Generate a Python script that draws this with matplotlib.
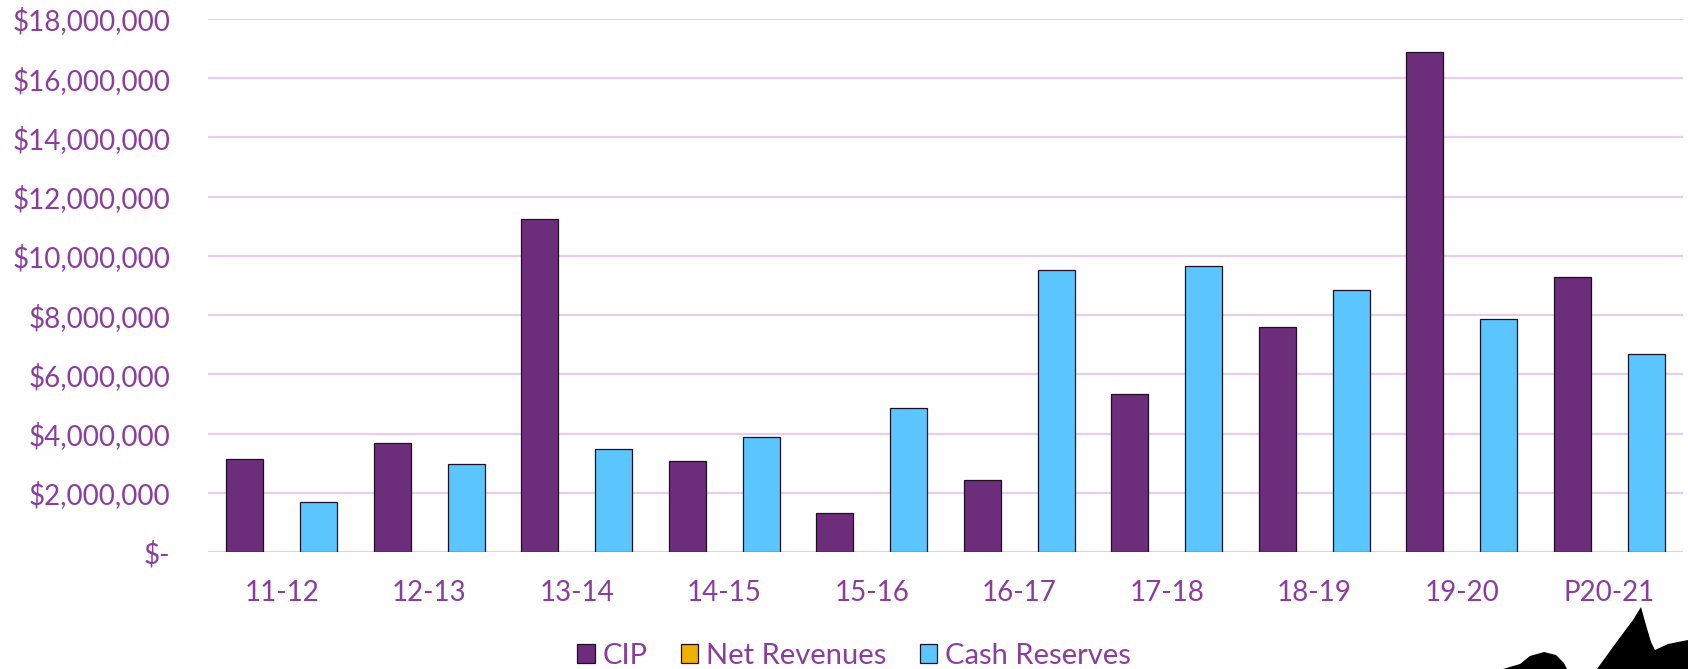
import matplotlib.pyplot as plt
import numpy as np
from matplotlib.patches import Patch, Polygon
from matplotlib.ticker import FuncFormatter

years = ['11-12', '12-13', '13-14', '14-15', '15-16', '16-17', '17-18', '18-19', '19-20', 'P20-21']
cip = [3.13, 3.67, 11.23, 3.07, 1.33, 2.43, 5.33, 7.61, 16.9, 9.30]
net_revenues = [0, 0, 0, 0, 0, 0, 0, 0, 0, 0]
cash_reserves = [1.69, 2.97, 3.49, 3.90, 4.86, 9.51, 9.66, 8.84, 7.86, 6.67]

TEXT = '#8B3D9E'
GRID = '#E8CDEB'
C_CIP = '#6C2D7A'
C_NET = '#F0B000'
C_CASH = '#5BC6FE'

plt.rcParams['font.family'] = ['Lato', 'DejaVu Sans']


def money(v, pos):
    if abs(v) < 1e-9:
        return '$-'
    return '${:,.0f}'.format(v * 1e6)


def plot_chart():
    W, H = 1688, 669
    fig = plt.figure(figsize=(W / 100, H / 100), dpi=100)
    ax = fig.add_axes([208 / W, 1 - 552 / H, (1683 - 208) / W, (552 - 19) / H])

    x = np.arange(len(years))
    w = 0.25
    ax.bar(x - w, cip, w, color=C_CIP, edgecolor='#1e0f24', linewidth=0.9, zorder=3)
    ax.bar(x, net_revenues, w, color=C_NET, linewidth=0, zorder=3)
    ax.bar(x + w, cash_reserves, w, color=C_CASH, edgecolor='#1e0f24', linewidth=0.9, zorder=3)

    ax.set_xlim(-0.5, len(years) - 0.5)
    ax.set_ylim(0, 18)
    ax.set_yticks(np.arange(0, 19, 2))
    ax.yaxis.set_major_formatter(FuncFormatter(money))
    ax.set_xticks(x)
    ax.set_xticklabels(years)
    ax.tick_params(axis='both', length=0, labelcolor=TEXT, labelsize=20)
    ax.tick_params(axis='y', pad=27)
    ax.tick_params(axis='x', pad=20)
    ax.grid(axis='y', color=GRID, linewidth=1.6, zorder=0)
    for s in ax.spines.values():
        s.set_visible(False)

    handles = [Patch(facecolor=c, edgecolor='#1e0f24', linewidth=0.9)
               for c in (C_CIP, C_NET, C_CASH)]
    fig.legend(handles, ['CIP', 'Net Revenues', 'Cash Reserves'],
               loc='center', bbox_to_anchor=(854 / W, 1 - 656 / H), ncol=3,
               frameon=False, fontsize=21, labelcolor=TEXT,
               handlelength=0.6, handleheight=0.6, handletextpad=0.26,
               columnspacing=1.15, borderpad=0)

    # black decoration shapes in the bottom-right corner
    hump = [(1503, 669), (1520, 664), (1530, 656), (1544, 652), (1556, 655),
            (1564, 663), (1567, 669)]
    spike = [(1597, 669), (1618, 640), (1633, 620), (1641, 607), (1646, 625),
             (1651, 642), (1655, 650), (1668, 644), (1688, 640), (1688, 669)]
    for pts in (hump, spike):
        fig.patches.append(Polygon([(px / W, 1 - py / H) for px, py in pts],
                                   closed=True, transform=fig.transFigure,
                                   facecolor='black', edgecolor='none'))

    fig.savefig('out.png', dpi=100)
    plt.close(fig)


if __name__ == "__main__":
    plot_chart()
